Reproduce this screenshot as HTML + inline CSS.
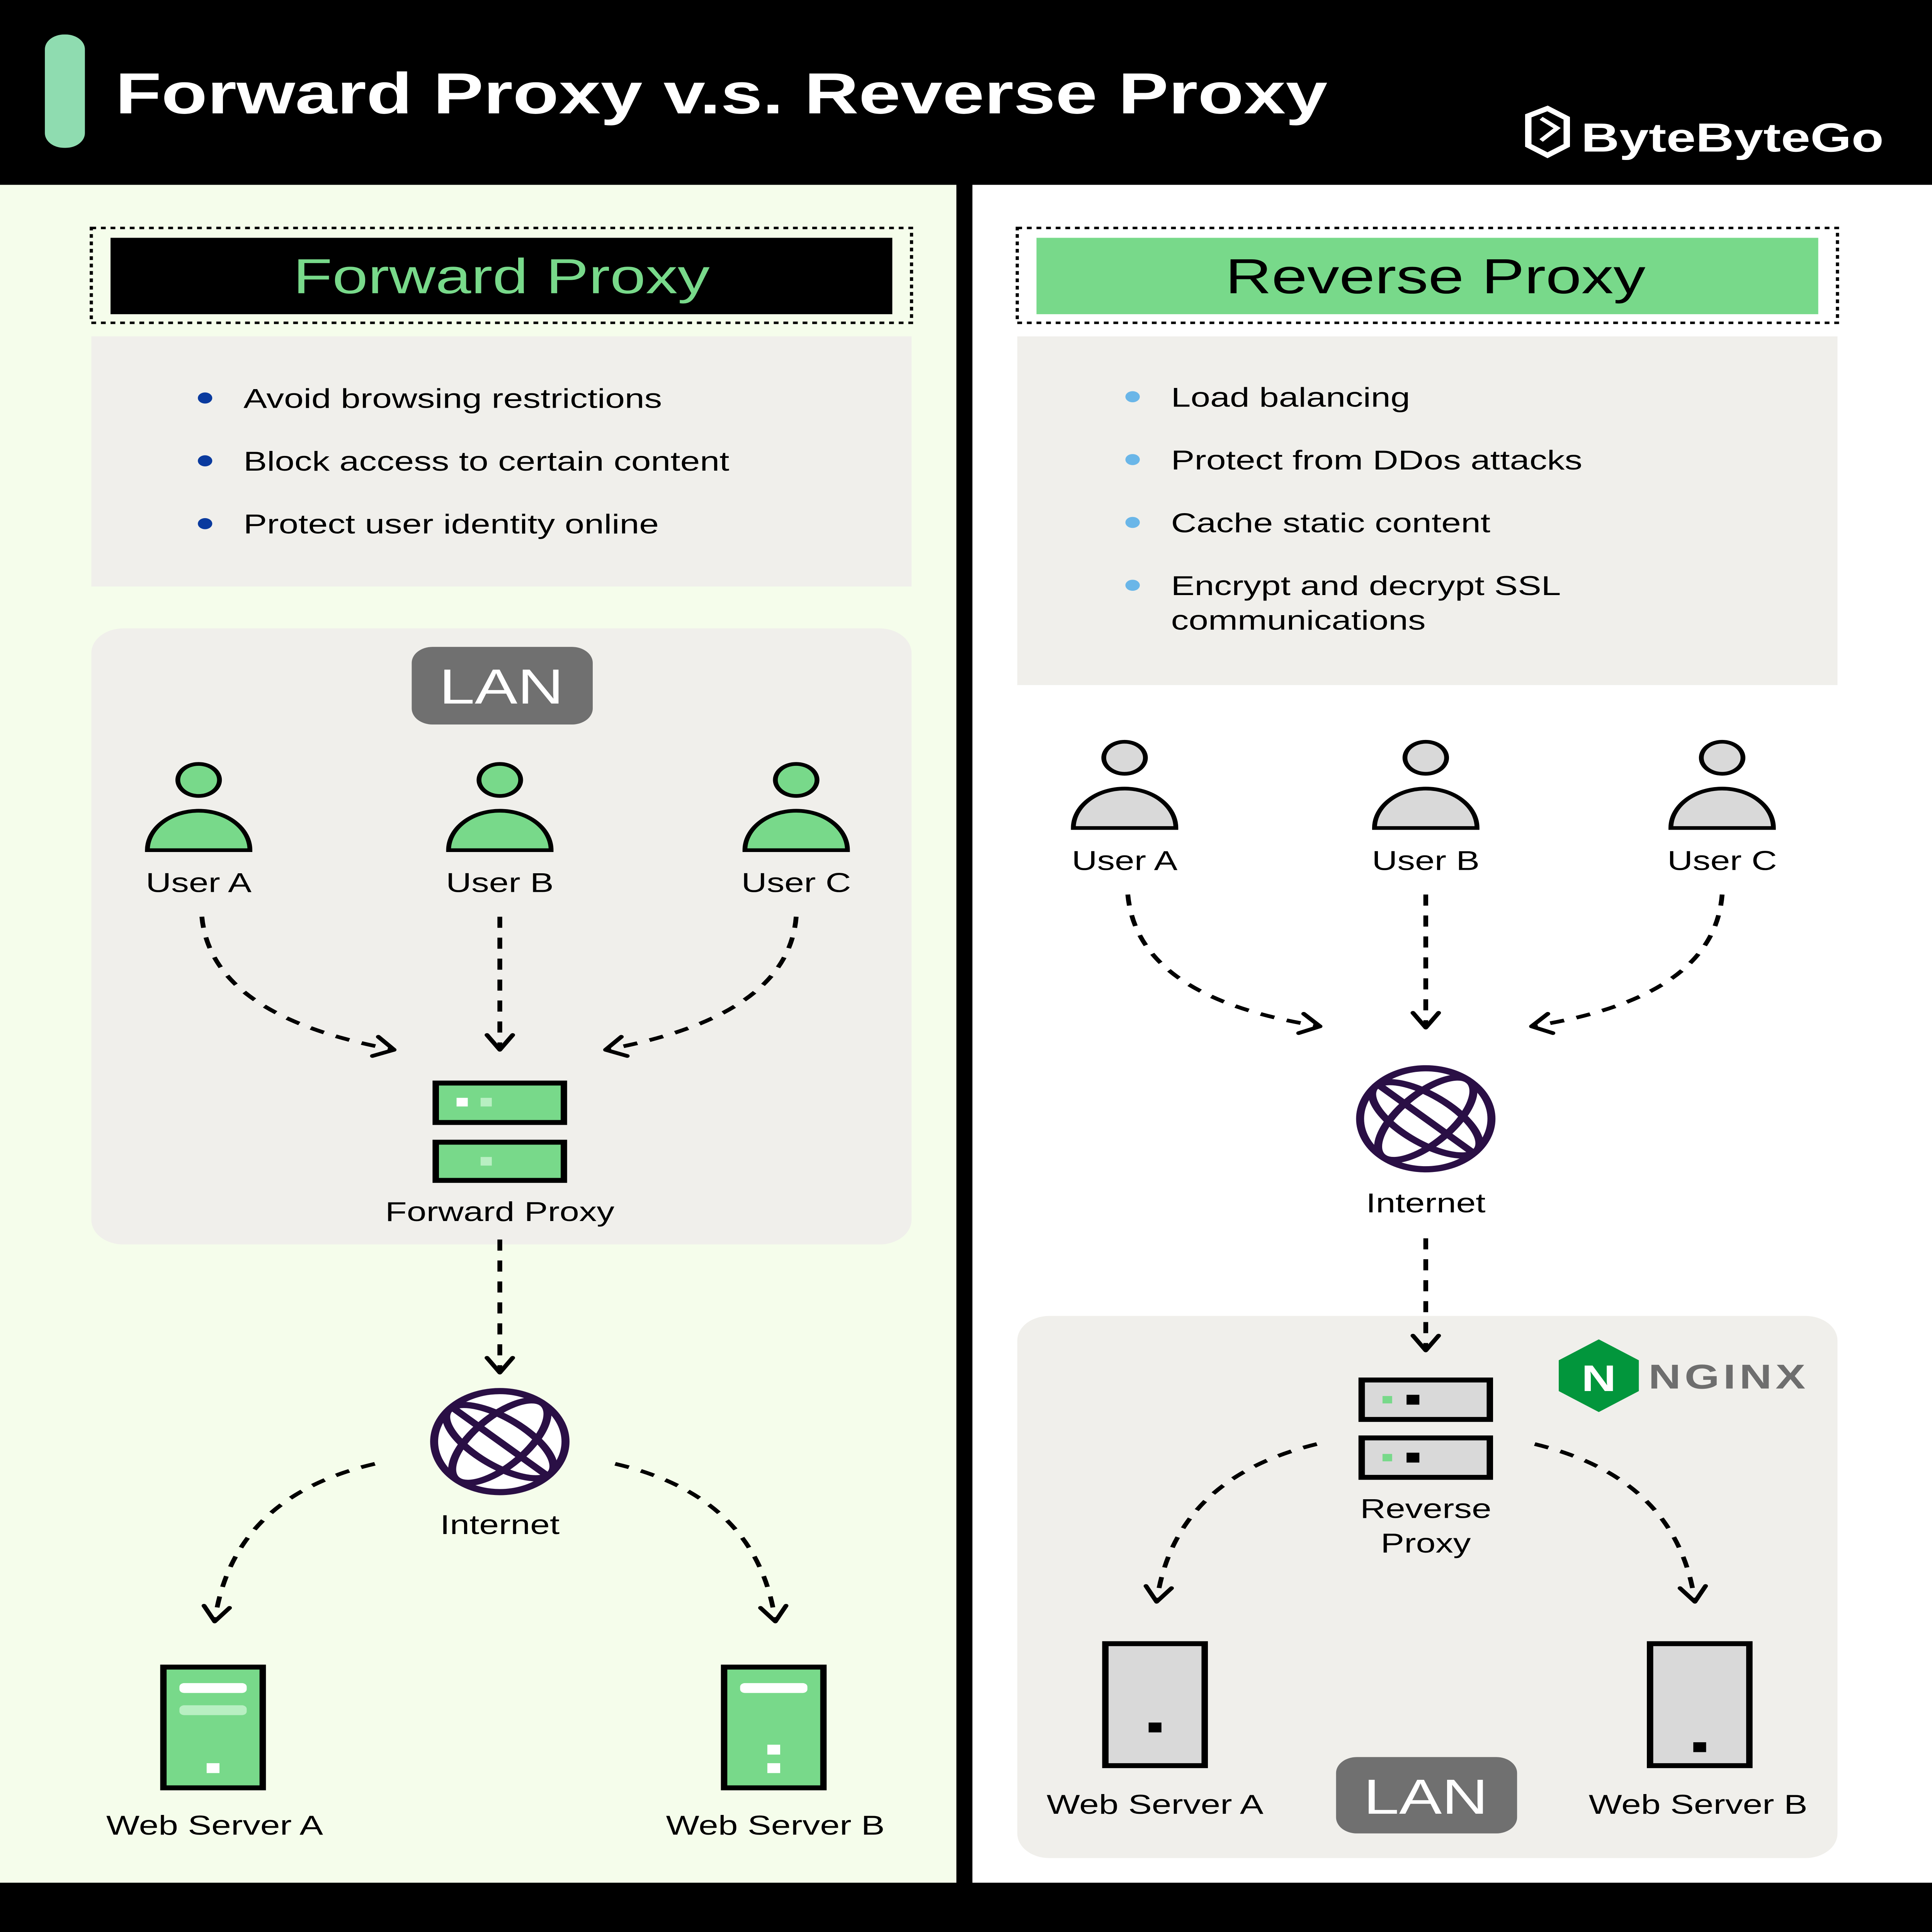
<!DOCTYPE html>
<html><head><meta charset="utf-8"><style>
html,body{margin:0;padding:0;background:#000;width:100%;height:100%;overflow:hidden}
svg{display:block;width:100vw;height:100vh}
</style></head>
<body>
<svg xmlns="http://www.w3.org/2000/svg" viewBox="0 0 1206 1568" preserveAspectRatio="none" font-family="Liberation Sans, sans-serif">
<defs>
<marker id="ah" viewBox="0 0 20 20" refX="14" refY="10" markerWidth="20" markerHeight="20" markerUnits="userSpaceOnUse" orient="auto">
<path d="M2,2 L14,10 L2,18" fill="none" stroke="#000" stroke-width="3" stroke-linecap="round" stroke-linejoin="round"/>
</marker>
</defs>
<rect width="1206" height="1568" fill="#000"/>
<rect x="28" y="28" width="25" height="92" rx="12" fill="#8fdcb0"/>
<text x="72" y="92" fill="#fff" font-size="47" font-weight="bold">Forward Proxy v.s. Reverse Proxy</text>
<g transform="translate(950,92)"><path d="M4,2 L16,-4 L28,4 L28,26 L16,34 L4,26 Z" fill="none" stroke="#fff" stroke-width="4"/><path d="M12,4 L22,12 L12,22" fill="none" stroke="#fff" stroke-width="3"/></g>
<text x="987" y="123" fill="#fff" font-size="33" font-weight="bold">ByteByteGo</text>
<rect x="0" y="150" width="597" height="1378" fill="#f5fdeb"/>
<rect x="607" y="150" width="599" height="1378" fill="#fff"/>

<!-- LEFT -->
<rect x="57" y="185" width="512" height="77" fill="none" stroke="#000" stroke-width="2" stroke-dasharray="3 3"/>
<rect x="69" y="193" width="488" height="62" fill="#000"/>
<text x="313" y="238" fill="#78d98a" font-size="40" text-anchor="middle">Forward Proxy</text>
<rect x="57" y="273" width="512" height="203" fill="#f0efeb"/>
<g font-size="22" fill="#000">
<circle cx="128" cy="323" r="4.5" fill="#0a3a9e"/><text x="152" y="331">Avoid browsing restrictions</text>
<circle cx="128" cy="374" r="4.5" fill="#0a3a9e"/><text x="152" y="382">Block access to certain content</text>
<circle cx="128" cy="425" r="4.5" fill="#0a3a9e"/><text x="152" y="433">Protect user identity online</text>
</g>
<rect x="57" y="510" width="512" height="500" rx="20" fill="#f0efeb"/>
<rect x="257" y="525" width="113" height="63" rx="13" fill="#707070"/>
<text x="313" y="571" fill="#fff" font-size="40" text-anchor="middle">LAN</text>
<g fill="#78d98a" stroke="#000" stroke-width="3">
<circle cx="124" cy="633" r="13"/><path d="M92,690 A32,32 0 0 1 156,690 Z"/>
<circle cx="312" cy="633" r="13"/><path d="M280,690 A32,32 0 0 1 344,690 Z"/>
<circle cx="497" cy="633" r="13"/><path d="M465,690 A32,32 0 0 1 529,690 Z"/>
</g>
<g font-size="22" text-anchor="middle"><text x="124" y="724">User A</text><text x="312" y="724">User B</text><text x="497" y="724">User C</text></g>
<g fill="none" stroke="#000" stroke-width="3" stroke-dasharray="9 8">
<path d="M126,744 Q132,825 246,852" marker-end="url(#ah)"/>
<path d="M312,744 L312,852" marker-end="url(#ah)"/>
<path d="M497,744 Q492,825 378,852" marker-end="url(#ah)"/>
<path d="M312,1006 L312,1114" marker-end="url(#ah)"/>
<path d="M234,1188 Q145,1215 134,1316" marker-end="url(#ah)"/>
<path d="M384,1188 Q473,1215 484,1316" marker-end="url(#ah)"/>
</g>
<rect x="272" y="879" width="80" height="32" fill="#78d98a" stroke="#000" stroke-width="4"/>
<rect x="272" y="927" width="80" height="31" fill="#78d98a" stroke="#000" stroke-width="4"/>
<rect x="285" y="891" width="7" height="7" fill="#fff"/><rect x="300" y="891" width="7" height="7" fill="#b8efc2"/>
<rect x="300" y="939" width="7" height="7" fill="#b8efc2"/>
<text x="312" y="991" font-size="22" text-anchor="middle">Forward Proxy</text>
<g transform="translate(312,1170)" fill="none" stroke="#2a0f45" stroke-width="5">
<circle r="41" fill="#fff"/>
<ellipse rx="18" ry="41" transform="rotate(40)"/>
<ellipse rx="18" ry="41" transform="rotate(-50)"/>
<line x1="-30" y1="-28" x2="30" y2="28"/>
</g>
<text x="312" y="1245" font-size="22" text-anchor="middle">Internet</text>
<rect x="102" y="1353" width="62" height="98" fill="#78d98a" stroke="#000" stroke-width="4"/>
<rect x="112" y="1366" width="42" height="8" rx="3" fill="#fff"/><rect x="112" y="1384" width="42" height="8" rx="3" fill="#b8efc2"/>
<rect x="129" y="1431" width="8" height="8" fill="#fff"/>
<rect x="452" y="1353" width="62" height="98" fill="#78d98a" stroke="#000" stroke-width="4"/>
<rect x="462" y="1366" width="42" height="8" rx="3" fill="#fff"/>
<rect x="479" y="1416" width="8" height="8" fill="#fff"/><rect x="479" y="1431" width="8" height="8" fill="#fff"/>
<text x="134" y="1489" font-size="22" text-anchor="middle">Web Server A</text>
<text x="484" y="1489" font-size="22" text-anchor="middle">Web Server B</text>

<!-- RIGHT -->
<rect x="635" y="185" width="512" height="77" fill="none" stroke="#000" stroke-width="2" stroke-dasharray="3 3"/>
<rect x="647" y="193" width="488" height="62" fill="#78d98a"/>
<text x="896" y="238" fill="#000" font-size="40" text-anchor="middle">Reverse Proxy</text>
<rect x="635" y="273" width="512" height="283" fill="#f0efeb"/>
<g font-size="22" fill="#000">
<circle cx="707" cy="322" r="4.5" fill="#6ab6e8"/><text x="731" y="330">Load balancing</text>
<circle cx="707" cy="373" r="4.5" fill="#6ab6e8"/><text x="731" y="381">Protect from DDos attacks</text>
<circle cx="707" cy="424" r="4.5" fill="#6ab6e8"/><text x="731" y="432">Cache static content</text>
<circle cx="707" cy="475" r="4.5" fill="#6ab6e8"/><text x="731" y="483">Encrypt and decrypt SSL</text><text x="731" y="511">communications</text>
</g>
<g fill="#d9d9d9" stroke="#000" stroke-width="3">
<circle cx="702" cy="615" r="13"/><path d="M670,672 A32,32 0 0 1 734,672 Z"/>
<circle cx="890" cy="615" r="13"/><path d="M858,672 A32,32 0 0 1 922,672 Z"/>
<circle cx="1075" cy="615" r="13"/><path d="M1043,672 A32,32 0 0 1 1107,672 Z"/>
</g>
<g font-size="22" text-anchor="middle"><text x="702" y="706">User A</text><text x="890" y="706">User B</text><text x="1075" y="706">User C</text></g>
<rect x="635" y="1068" width="512" height="440" rx="20" fill="#f0efeb"/>
<g fill="none" stroke="#000" stroke-width="3" stroke-dasharray="9 8">
<path d="M704,726 Q710,810 824,833" marker-end="url(#ah)"/>
<path d="M890,726 L890,834" marker-end="url(#ah)"/>
<path d="M1075,726 Q1070,810 956,833" marker-end="url(#ah)"/>
<path d="M890,1005 L890,1096" marker-end="url(#ah)"/>
<path d="M822,1172 Q733,1200 722,1300" marker-end="url(#ah)"/>
<path d="M958,1172 Q1047,1200 1058,1300" marker-end="url(#ah)"/>
</g>
<g transform="translate(890,908)" fill="none" stroke="#2a0f45" stroke-width="5">
<circle r="41" fill="#fff"/>
<ellipse rx="18" ry="41" transform="rotate(40)"/>
<ellipse rx="18" ry="41" transform="rotate(-50)"/>
<line x1="-30" y1="-28" x2="30" y2="28"/>
</g>
<text x="890" y="984" font-size="22" text-anchor="middle">Internet</text>
<path d="M998,1087 L1023,1104 L1023,1129 L998,1146 L973,1129 L973,1104 Z" fill="#02963c"/>
<text x="998" y="1129" font-size="30" font-weight="bold" fill="#fff" text-anchor="middle">N</text>
<text x="1029" y="1127" font-size="28" font-weight="bold" fill="#6e6e6e" textLength="98">NGINX</text>
<rect x="850" y="1120" width="80" height="32" fill="#d9d9d9" stroke="#000" stroke-width="4"/>
<rect x="850" y="1167" width="80" height="32" fill="#d9d9d9" stroke="#000" stroke-width="4"/>
<rect x="863" y="1133" width="6" height="6" fill="#78d98a"/><rect x="878" y="1132" width="8" height="8" fill="#000"/>
<rect x="863" y="1180" width="6" height="6" fill="#78d98a"/><rect x="878" y="1179" width="8" height="8" fill="#000"/>
<text x="890" y="1232" font-size="22" text-anchor="middle">Reverse</text>
<text x="890" y="1260" font-size="22" text-anchor="middle">Proxy</text>
<rect x="690" y="1334" width="62" height="99" fill="#d9d9d9" stroke="#000" stroke-width="4"/>
<rect x="717" y="1398" width="8" height="8" fill="#000"/>
<rect x="1030" y="1334" width="62" height="99" fill="#d9d9d9" stroke="#000" stroke-width="4"/>
<rect x="1057" y="1414" width="8" height="8" fill="#000"/>
<text x="721" y="1472" font-size="22" text-anchor="middle">Web Server A</text>
<text x="1060" y="1472" font-size="22" text-anchor="middle">Web Server B</text>
<rect x="834" y="1426" width="113" height="62" rx="13" fill="#707070"/>
<text x="890" y="1472" fill="#fff" font-size="40" text-anchor="middle">LAN</text>
</svg>
</body></html>
